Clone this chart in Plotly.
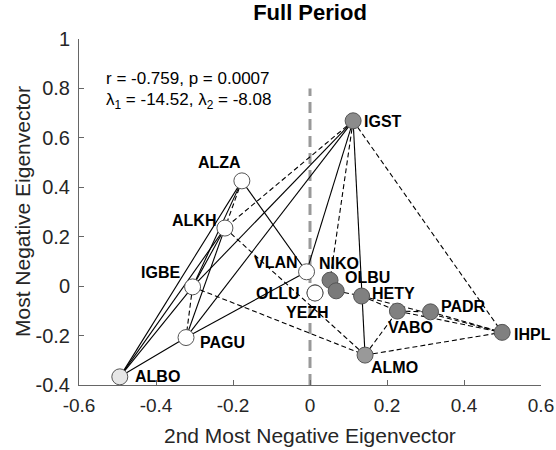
import plotly.graph_objects as go

# node positions
names = ['IGST', 'ALZA', 'ALKH', 'IGBE', 'PAGU', 'ALBO', 'VLAN', 'OLLU', 'YEZH',
         'NIKO', 'OLBU', 'HETY', 'VABO', 'PADR', 'IHPL', 'ALMO']
x_vals = [0.112, -0.177, -0.221, -0.305, -0.322, -0.494, -0.009, 0.013, 0.013,
          0.052, 0.068, 0.134, 0.227, 0.313, 0.499, 0.143]
y_vals = [0.669, 0.426, 0.235, -0.003, -0.208, -0.367, 0.058, -0.027, -0.028,
          0.024, -0.019, -0.040, -0.101, -0.104, -0.187, -0.279]

solid_edges = [('ALZA', 'ALBO'), ('ALZA', 'IGBE'), ('ALZA', 'VLAN'), ('ALKH', 'IGBE'),
               ('ALKH', 'PAGU'), ('IGBE', 'ALBO'), ('PAGU', 'ALBO'), ('PAGU', 'VLAN'),
               ('IGST', 'IGBE'), ('IGST', 'PAGU'), ('IGST', 'VLAN'), ('IGST', 'ALMO'),
               ('ALKH', 'ALBO')]
dashed_edges = [('ALZA', 'ALKH'), ('IGST', 'ALKH'), ('IGST', 'NIKO'), ('IGST', 'IHPL'),
                ('ALKH', 'ALMO'), ('IGBE', 'ALMO'), ('OLBU', 'HETY'), ('HETY', 'IHPL'),
                ('VABO', 'PADR'), ('PADR', 'IHPL'), ('VABO', 'IHPL'), ('HETY', 'VABO'),
                ('ALMO', 'VABO'), ('ALMO', 'IHPL'), ('IGBE', 'PAGU')]

x_ticks = [-0.6, -0.4, -0.2, 0, 0.2, 0.4, 0.6]
x_tick_text = ['-0.6', '-0.4', '-0.2', '0', '0.2', '0.4', '0.6']
y_ticks = [-0.4, -0.2, 0, 0.2, 0.4, 0.6, 0.8, 1]
y_tick_text = ['-0.4', '-0.2', '0', '0.2', '0.4', '0.6', '0.8', '1']
zero_line_y = [-0.4, 0.8]

fills = ['#8c8c8c', 'white', 'white', 'white', 'white', '#e6e6e6', 'white', 'white', 'white',
         '#7a7a7a', '#7a7a7a', '#808080', '#808080', '#808080', '#808080', '#999999']
# label placement: (xshift, yshift, xanchor)
label_pos = [(9, -1, 'left'), (1, 18, 'right'), (-7, 8, 'right'), (-11, 14, 'right'),
             (12, -5, 'left'), (13, 0, 'left'), (-7, 9, 'right'), (-13, -1, 'right'),
             (-8, -19, 'center'), (-13, 17, 'left'), (7, 13, 'left'), (8, 3, 'left'),
             (-11, -16, 'left'), (8, 5, 'left'), (10, -2, 'left'), (4, -12, 'left')]

pos = {n: (x, y) for n, x, y in zip(names, x_vals, y_vals)}


def edge_xy(edges):
    ex, ey = [], []
    for a, b in edges:
        ex += [pos[a][0], pos[b][0], None]
        ey += [pos[a][1], pos[b][1], None]
    return ex, ey


FONT = 'Liberation Sans, Arial, sans-serif'

fig = go.Figure()

fig.add_trace(go.Scatter(x=[0, 0], y=zero_line_y, mode='lines',
                         line=dict(color='#999999', width=3, dash='11px,6px'),
                         hoverinfo='skip'))

sx, sy = edge_xy(solid_edges)
fig.add_trace(go.Scatter(x=sx, y=sy, mode='lines',
                         line=dict(color='black', width=1.1), hoverinfo='skip'))
dx, dy = edge_xy(dashed_edges)
fig.add_trace(go.Scatter(x=dx, y=dy, mode='lines',
                         line=dict(color='black', width=1.1, dash='5px,3px'),
                         hoverinfo='skip'))

fig.add_trace(go.Scatter(x=x_vals, y=y_vals, mode='markers',
                         marker=dict(size=16, color=fills,
                                     line=dict(color='#555555', width=1)),
                         text=names, hoverinfo='text'))

for n, x, y, (xs, ys, xa) in zip(names, x_vals, y_vals, label_pos):
    fig.add_annotation(x=x, y=y, text='<b>%s</b>' % n, showarrow=False,
                       xshift=xs, yshift=ys, xanchor=xa, yanchor='middle',
                       font=dict(family=FONT, size=16, color='black'))

fig.add_annotation(x=-0.535, y=0.84, text='r = -0.759, p = 0.0007', showarrow=False,
                   xanchor='left', yanchor='middle',
                   font=dict(family=FONT, size=17, color='black'))
fig.add_annotation(x=-0.535, y=0.75,
                   text='λ<sub>1</sub> = -14.52, λ<sub>2</sub> = -8.08', showarrow=False,
                   xanchor='left', yanchor='middle',
                   font=dict(family=FONT, size=17, color='black'))

# axis titles
fig.add_annotation(xref='paper', yref='paper', x=0.5, y=0, yshift=-50,
                   text='2nd Most Negative Eigenvector', showarrow=False,
                   xanchor='center', yanchor='middle',
                   font=dict(family=FONT, size=21, color='#262626'))
fig.add_annotation(xref='paper', yref='paper', x=0, y=0.5, xshift=-57,
                   text='Most Negative Eigenvector', showarrow=False, textangle=-90,
                   xanchor='center', yanchor='middle',
                   font=dict(family=FONT, size=21, color='#262626'))

fig.update_layout(
    width=556, height=450,
    margin=dict(l=79, r=15, t=39, b=65),
    paper_bgcolor='white', plot_bgcolor='white',
    showlegend=False,
    font=dict(family=FONT, color='#262626'),
    title=dict(text='<b>Full Period</b>', x=0.5, xanchor='center',
               xref='paper', y=1 - 12 / 450, yanchor='middle',
               font=dict(size=22, color='black')),
    xaxis=dict(range=[-0.6, 0.6], tickvals=x_ticks, ticktext=x_tick_text,
               ticks='inside', ticklen=5, tickcolor='#666666', automargin=False,
               showline=True, linecolor='#666666', linewidth=1,
               showgrid=False, zeroline=False, tickfont=dict(size=19),
               ticklabelstandoff=3),
    yaxis=dict(range=[-0.4, 1], tickvals=y_ticks, ticktext=y_tick_text,
               ticks='inside', ticklen=5, tickcolor='#666666', automargin=False,
               showline=True, linecolor='#666666', linewidth=1,
               showgrid=False, zeroline=False, tickfont=dict(size=20),
               ticklabelstandoff=4),
)

# drop the default page margin so the figure sits at the window's top-left corner
fig.write_html('out.html', config={'displayModeBar': False},
               post_script="document.body.style.margin='0';")
